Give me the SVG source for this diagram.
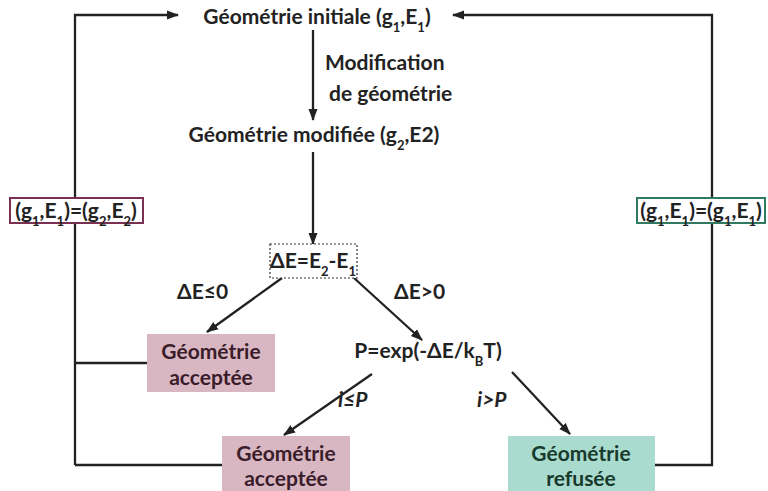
<svg xmlns="http://www.w3.org/2000/svg" width="768" height="491" viewBox="0 0 768 491">
<style>
text{font-family:Lato,"Open Sans","Liberation Sans",sans-serif;font-weight:bold;font-size:21px;fill:#222}
.c{text-anchor:middle}
.s{font-size:13px;baseline-shift:sub}
.ln{fill:none;stroke:#222;stroke-width:2.3}
.pk{fill:#d8b7c2}
.gr{fill:#a9dccf}
.pt{fill:#3a1c2a}
.gt{fill:#183a2c}
.it{font-style:italic}
</style>
<defs>
<marker id="ah" markerWidth="12" markerHeight="12" refX="11" refY="6" orient="auto" markerUnits="userSpaceOnUse">
<path d="M0,1.5 L12,6 L0,10.5 Z" fill="#222"/>
</marker>
</defs>
<rect width="768" height="491" fill="#fff"/>
<g id="connectors">
<polyline class="ln" points="75,465 75,15 178,15" marker-end="url(#ah)"/>
<polyline class="ln" points="655,465 712,465 712,15 453,15" marker-end="url(#ah)"/>
<line class="ln" x1="313" y1="30" x2="313" y2="120" marker-end="url(#ah)"/>
<line class="ln" x1="313" y1="152" x2="313" y2="244" marker-end="url(#ah)"/>
<line class="ln" x1="282" y1="278" x2="207" y2="332" marker-end="url(#ah)"/>
<line class="ln" x1="354" y1="278" x2="422" y2="340" marker-end="url(#ah)"/>
<line class="ln" x1="75" y1="363" x2="147" y2="363"/>
<line class="ln" x1="372" y1="374" x2="284" y2="435" marker-end="url(#ah)"/>
<line class="ln" x1="512" y1="372" x2="570" y2="434" marker-end="url(#ah)"/>
<line class="ln" x1="75" y1="465" x2="222" y2="465"/>
<text x="325" y="70">Modification</text>
<text x="329" y="101">de géométrie</text>
<text x="177" y="299">ΔE≤0</text>
<text x="394" y="299">ΔE&gt;0</text>
<text x="338" y="407" class="it">i≤P</text>
<text x="477" y="407" class="it">i&gt;P</text>
</g>
<g id="init">
<text class="c" x="317" y="24">Géométrie initiale (g<tspan class="s">1</tspan>,E<tspan class="s">1</tspan>)</text>
</g>
<g id="modif">
<text class="c" x="314" y="142">Géométrie modifiée (g<tspan class="s">2</tspan>,E2)</text>
</g>
<g id="delta">
<rect x="270" y="244" width="87" height="34" fill="#fff" stroke="#333" stroke-width="1.2" stroke-dasharray="2,2"/>
<text class="c" x="313" y="268">ΔE=E<tspan class="s">2</tspan>-E<tspan class="s">1</tspan></text>
</g>
<g id="left-eq">
<rect x="10" y="198" width="133" height="25" fill="#fff" stroke="#7a3050" stroke-width="2"/>
<text class="c" x="76" y="218">(g<tspan class="s">1</tspan>,E<tspan class="s">1</tspan>)=(g<tspan class="s">2</tspan>,E<tspan class="s">2</tspan>)</text>
</g>
<g id="right-eq">
<rect x="637" y="198" width="128" height="25" fill="#fff" stroke="#2f7a60" stroke-width="2"/>
<text class="c" x="701" y="218">(g<tspan class="s">1</tspan>,E<tspan class="s">1</tspan>)=(g<tspan class="s">1</tspan>,E<tspan class="s">1</tspan>)</text>
</g>
<g id="accept1">
<rect class="pk" x="147" y="334" width="128" height="58"/>
<text class="c pt" x="211" y="359">Géométrie</text>
<text class="c pt" x="211" y="385">acceptée</text>
</g>
<g id="proba">
<text class="c" x="428" y="358">P=exp(-ΔE/k<tspan class="s">B</tspan>T)</text>
</g>
<g id="accept2">
<rect class="pk" x="222" y="436" width="128" height="55"/>
<text class="c pt" x="286" y="461">Géométrie</text>
<text class="c pt" x="286" y="486">acceptée</text>
</g>
<g id="refuse">
<rect class="gr" x="508" y="436" width="147" height="55"/>
<text class="c gt" x="581" y="461">Géométrie</text>
<text class="c gt" x="581" y="486">refusée</text>
</g>
</svg>
